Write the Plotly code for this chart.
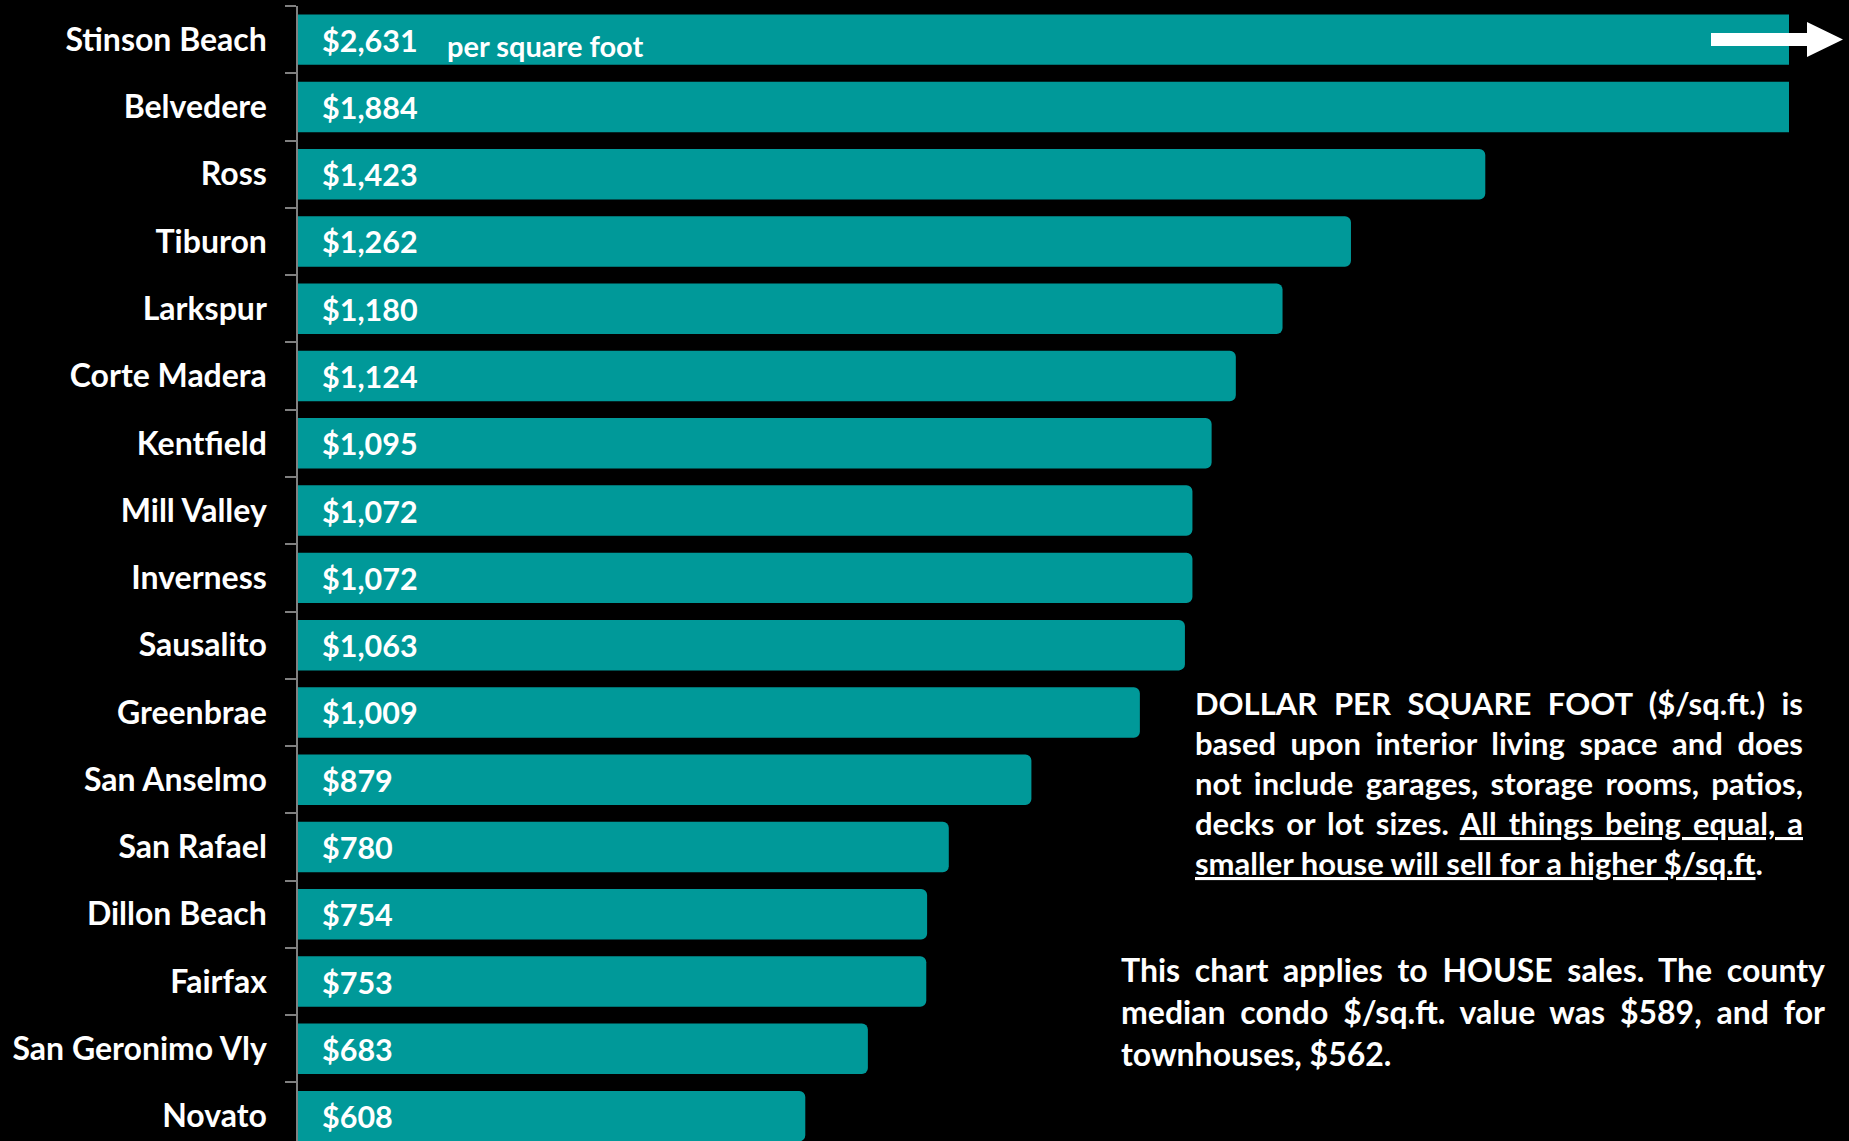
import json
import plotly.graph_objects as go

# Median house $/sq.ft. by town
cities = [
    "Stinson Beach", "Belvedere", "Ross", "Tiburon", "Larkspur", "Corte Madera",
    "Kentfield", "Mill Valley", "Inverness", "Sausalito", "Greenbrae",
    "San Anselmo", "San Rafael", "Dillon Beach", "Fairfax", "San Geronimo Vly",
    "Novato",
]
price_per_sqft = [
    2631, 1884, 1423, 1262, 1180, 1124, 1095, 1072, 1072, 1063, 1009,
    879, 780, 754, 753, 683, 608,
]

note_lines = [
    "DOLLAR PER SQUARE FOOT ($/sq.ft.) is",
    "based upon interior living space and does",
    "not include garages, storage rooms, patios,",
    "decks or lot sizes. <span style=\"text-decoration:underline\">All things being equal, a</span>",
    "<span style=\"text-decoration:underline\">smaller house will sell for a higher $/sq.ft</span>.",
]
scope_lines = [
    "This chart applies to HOUSE sales. The county",
    "median condo $/sq.ft. value was $589, and for",
    "townhouses, $562.",
]

W, H = 1849, 1141
PLOT_L, PLOT_R, PLOT_T, PLOT_B = 298, 1789, 6, 1141
TEAL = "#009999"
FONT = "Lato"


def px_x(px):
    return (px - PLOT_L) / (PLOT_R - PLOT_L)


def px_y(py):
    return (PLOT_B - py) / (PLOT_B - PLOT_T)


fig = go.Figure(
    go.Bar(
        x=price_per_sqft,
        y=cities,
        orientation="h",
        marker=dict(color=TEAL, cornerradius=6, line=dict(width=0)),
        hoverinfo="skip",
    )
)

annotations = []
# value labels at the start of each bar
for city, v in zip(cities, price_per_sqft):
    annotations.append(dict(
        x=0, y=city, xref="x", yref="y", xanchor="left", yanchor="middle",
        xshift=22, text=f"${v:,}", showarrow=False,
        font=dict(family=FONT, size=30.5, color="white", weight="bold"),
    ))

annotations.append(dict(
    x=0, y=cities[0], xref="x", yref="y", xanchor="left", yanchor="middle",
    xshift=147, yshift=-6, text="per square foot", showarrow=False,
    font=dict(family=FONT, size=29, color="white", weight="bold"),
))

# explanatory notes, one annotation per line so lines can be justified
justify = {}
for i, (line, py) in enumerate(zip(note_lines, [703, 743, 783, 823, 863])):
    if i < len(note_lines) - 1:
        justify[len(annotations)] = 1801 - 1193
    annotations.append(dict(
        x=px_x(1193), y=px_y(py), xref="paper", yref="paper",
        xanchor="left", yanchor="middle", align="left", text=line,
        showarrow=False,
        font=dict(family=FONT, size=31, color="white", weight="bold"),
    ))
for i, (line, py) in enumerate(zip(scope_lines, [969, 1011, 1053])):
    if i < len(scope_lines) - 1:
        justify[len(annotations)] = 1823 - 1119
    annotations.append(dict(
        x=px_x(1119), y=px_y(py), xref="paper", yref="paper",
        xanchor="left", yanchor="middle", align="left", text=line,
        showarrow=False,
        font=dict(family=FONT, size=32, color="white", weight="bold"),
    ))

# white arrow marking the bar that runs off the scale
arrow_pts = [(1711, 33), (1807, 33), (1807, 22), (1843, 39.5),
             (1807, 57), (1807, 46), (1711, 46)]
arrow_path = "M " + " L ".join(f"{px_x(x):.5f},{px_y(y):.5f}" for x, y in arrow_pts) + " Z"

fig.update_layout(
    template="none",
    width=W, height=H,
    margin=dict(l=PLOT_L, r=W - PLOT_R, t=PLOT_T, b=H - PLOT_B, pad=0),
    paper_bgcolor="black", plot_bgcolor="black",
    bargap=0.25,
    showlegend=False,
    xaxis=dict(range=[0, 1787], visible=False, fixedrange=True, automargin=False),
    yaxis=dict(
        type="category", categoryorder="array", categoryarray=cities,
        range=[16.37, -0.5], tickson="boundaries", ticks="outside",
        ticklen=11, tickwidth=1.5, tickcolor="#808080",
        showline=True, linecolor="#808080", linewidth=1.5,
        showgrid=False, zeroline=False, automargin=False,
        ticklabelstandoff=23,
        tickfont=dict(family=FONT, size=32, color="white", weight="bold"),
        fixedrange=True,
    ),
    annotations=annotations,
    shapes=[dict(type="path", xref="paper", yref="paper", path=arrow_path,
                 fillcolor="white", line=dict(width=0))],
)

# set word spacing so the note lines exactly fill their column width
post = """
var gd = document.getElementById('{plot_id}');
var targets = %s;
gd.querySelectorAll('g.annotation').forEach(function(g) {
  var i = g.getAttribute('data-index');
  if (!(i in targets)) return;
  var t = g.querySelector('text');
  var n = (t.textContent.match(/ /g) || []).length;
  var w = t.getComputedTextLength();
  if (n > 0) t.style.wordSpacing = ((targets[i] - w) / n) + 'px';
});
""" % json.dumps({str(k): v for k, v in justify.items()})

fig.write_html("out.html", post_script=post, config={"displayModeBar": False})
